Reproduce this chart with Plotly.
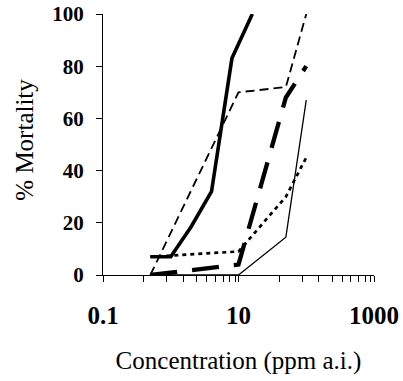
import plotly.graph_objects as go

# concentrations (ppm a.i.)
conc_a = [0.5, 1, 2, 4, 8, 16]
conc_b = [0.5, 10, 50, 100]

thick_solid = [7, 7, 18.5, 32, 83, 100]
thin_solid = [0, 0, 14.5, 67]
med_dash = [0, 70, 72, 100]
long_dash = [0, 4, 68, 80]
dotted = [7, 9, 30, 45]

x_ticks = [0.1, 10, 1000]
x_tick_text = ["0.1", "10", "1000"]
minor_ticks = [0.4, 0.88, 1.53, 2.41, 3.38, 4.57, 5.91, 7.41, 8.98,
               40, 88, 153, 241, 338, 457, 591, 741, 898]
y_ticks = [0, 20, 40, 60, 80, 100]

fig = go.Figure()
fig.add_trace(go.Scatter(x=conc_b, y=thin_solid, mode="lines",
                         line=dict(color="black", width=1.3)))
fig.add_trace(go.Scatter(x=conc_b, y=dotted, mode="lines",
                         line=dict(color="black", width=2.7, dash="4px,4px")))
fig.add_trace(go.Scatter(x=conc_b, y=med_dash, mode="lines",
                         line=dict(color="black", width=1.8, dash="9px,5px")))
fig.add_trace(go.Scatter(x=conc_b, y=long_dash, mode="lines",
                         line=dict(color="black", width=4.3, dash="27px,15px")))
fig.add_trace(go.Scatter(x=conc_a, y=thick_solid, mode="lines",
                         line=dict(color="black", width=3.6)))

serif = "Liberation Serif, Times New Roman, serif"
fig.update_layout(
    width=403, height=381,
    margin=dict(l=103, r=29, t=14, b=106),
    paper_bgcolor="white", plot_bgcolor="white",
    showlegend=False,
    font=dict(family=serif, color="black"),
    annotations=[dict(
        text="% Mortality", textangle=-90, showarrow=False,
        xref="paper", yref="paper", x=-0.29, y=0.52,
        xanchor="center", yanchor="middle",
        font=dict(family=serif, size=25, color="black"),
    )],
)
fig.update_xaxes(
    type="log", range=[-1, 3], automargin=False,
    tickmode="array", tickvals=x_ticks, ticktext=x_tick_text,
    tickfont=dict(family=serif, size=25, color="black", weight="bold"),
    ticks="outside", ticklen=6, tickwidth=1, tickcolor="black",
    ticklabelstandoff=12,
    minor=dict(tickmode="array", tickvals=minor_ticks, ticks="outside",
               ticklen=6, tickwidth=1, tickcolor="black", showgrid=False),
    showline=True, linecolor="black", linewidth=1,
    showgrid=False, zeroline=False,
    title=dict(text="Concentration (ppm a.i.)",
               font=dict(family=serif, size=25, color="black"), standoff=23),
)
fig.update_yaxes(
    range=[0, 100], automargin=False,
    tickmode="array", tickvals=y_ticks,
    tickfont=dict(family=serif, size=21, color="black", weight="bold"),
    ticks="outside", ticklen=6, tickwidth=1, tickcolor="black",
    ticklabelstandoff=8,
    showline=True, linecolor="black", linewidth=1,
    showgrid=False, zeroline=False,
)
fig.write_html("out.html")
